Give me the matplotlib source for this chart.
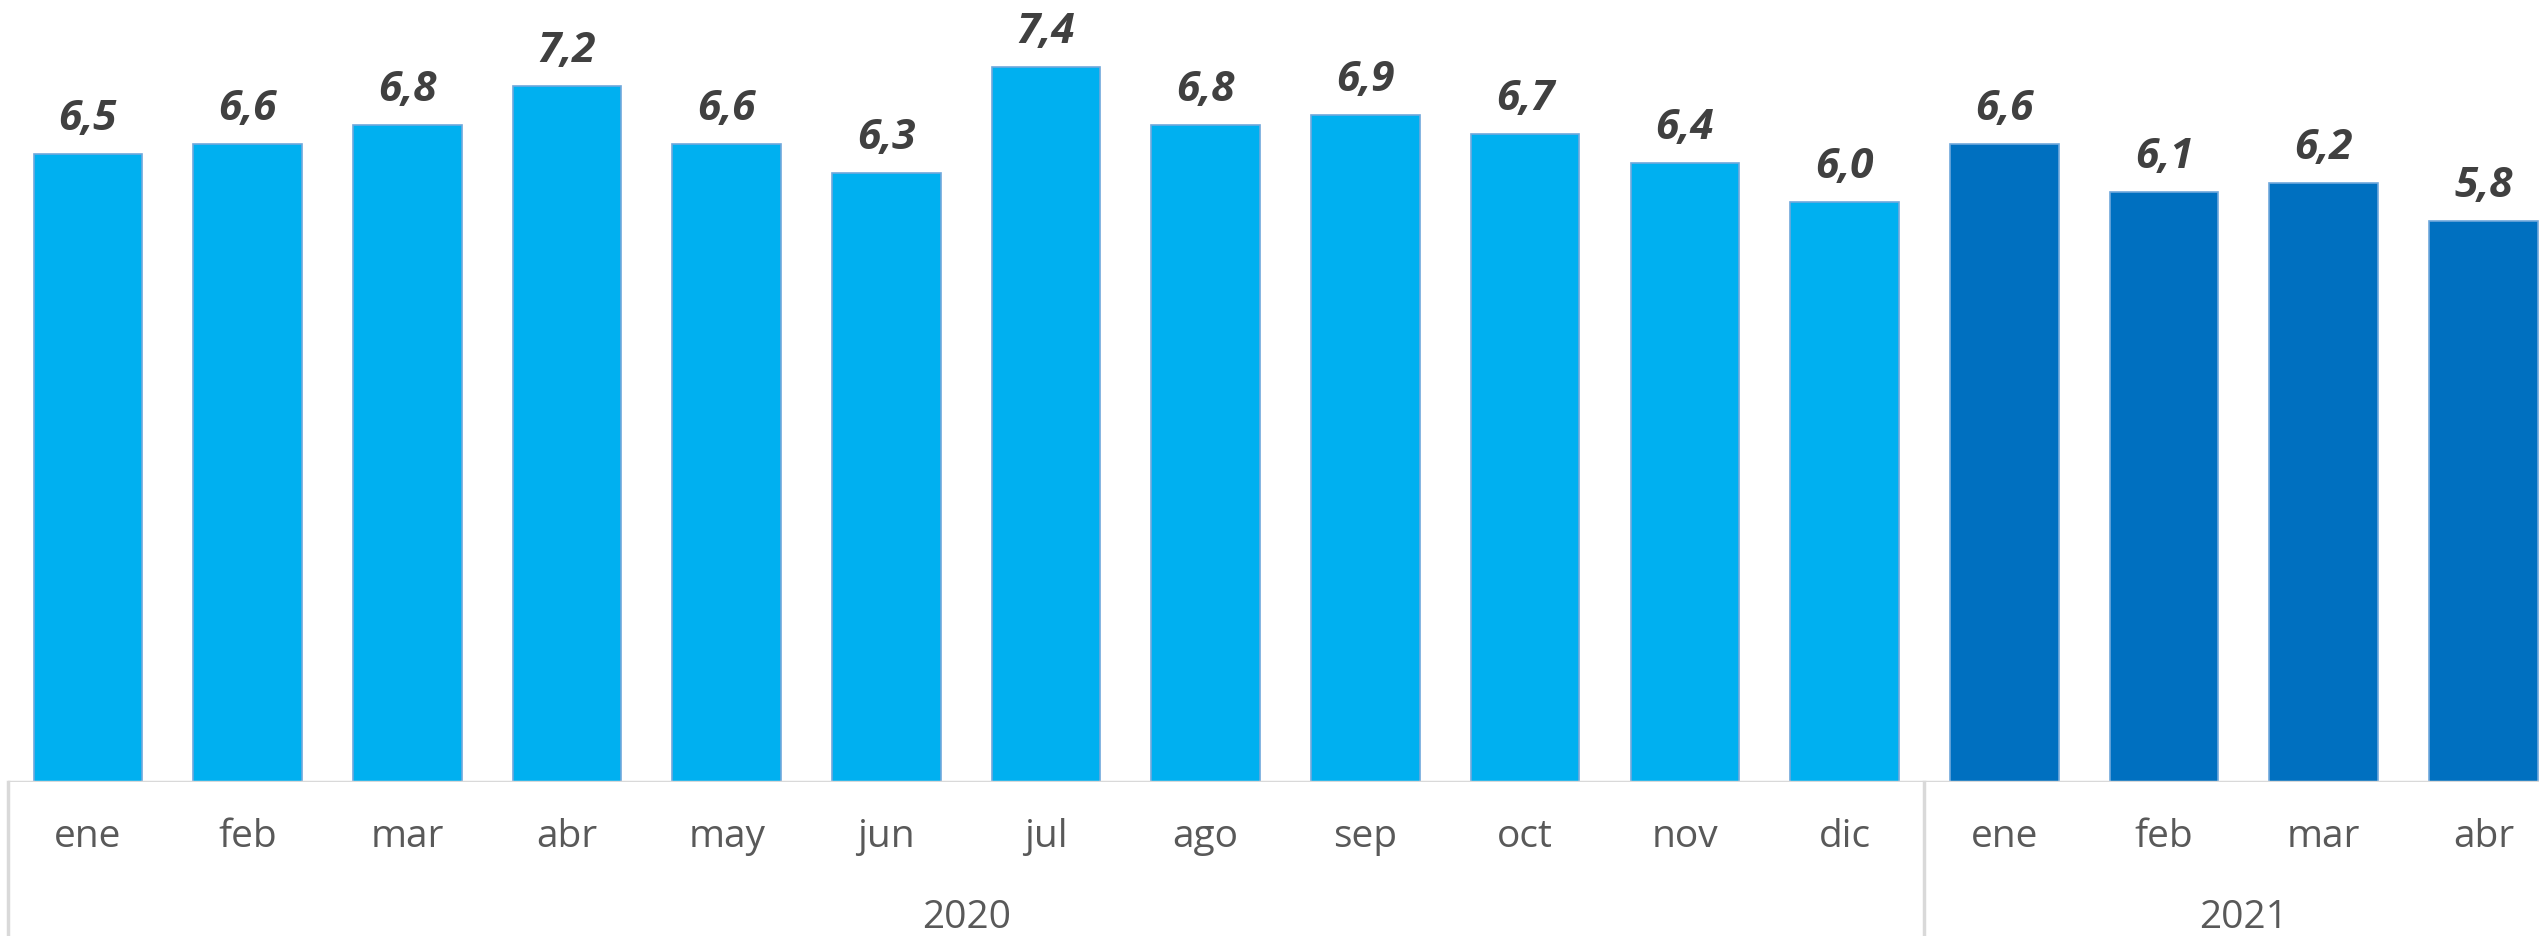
import matplotlib.pyplot as plt

# datos
meses = ["ene", "feb", "mar", "abr", "may", "jun", "jul", "ago", "sep", "oct", "nov", "dic",
         "ene", "feb", "mar", "abr"]
valores = [6.5, 6.6, 6.8, 7.2, 6.6, 6.3, 7.4, 6.8, 6.9, 6.7, 6.4, 6.0,
           6.6, 6.1, 6.2, 5.8]
anios = ["2020", "2021"]
n_por_anio = [12, 4]

colores_anio = ["#00B0F0", "#0070C0"]
gris_linea = "#D9D9D9"

plt.rcParams['font.family'] = ['Open Sans', 'DejaVu Sans']

W, H = 2539, 936
fig = plt.figure(figsize=(W / 100, H / 100), dpi=100)
# el eje se extiende un poco mas alla del borde derecho (recortado en el original)
ancho_cat = 159.7
ax = fig.add_axes([8 / W, (H - 782) / H, 16 * ancho_cat / W, 782 / H])

colores = []
for c, n in zip(colores_anio, n_por_anio):
    colores += [c] * n

x = list(range(len(valores)))
ax.bar(x, valores, width=0.68, color=colores, edgecolor="#6FA8DC", linewidth=1.2, zorder=2)

ax.set_xlim(-0.5, len(valores) - 0.5)
ax.set_ylim(0, 8.09)

for i, v in enumerate(valores):
    ax.text(i, v + 0.25, f"{v:.1f}".replace(".", ","), ha="center", va="baseline",
            fontsize=30.5, fontweight="bold", fontstyle="italic", color="#404040")

# eje de categorias
for s in ["top", "right", "left", "bottom"]:
    ax.spines[s].set_visible(False)
ax.set_yticks([])
ax.set_xticks([])
ax.axhline(0, color=gris_linea, lw=2.5, zorder=3)

for i, m in enumerate(meses):
    ax.text(i, -0.57, m, ha="center", va="center", fontsize=28, color="#595959")

inicio = -0.5
for anio, n in zip(anios, n_por_anio):
    ax.plot([inicio, inicio], [0, -1.7], color=gris_linea, lw=2.5, clip_on=False)
    ax.text(inicio + n / 2, -1.41, anio, ha="center", va="center", fontsize=28, color="#595959")
    inicio += n

fig.savefig("out.png", dpi=100)
